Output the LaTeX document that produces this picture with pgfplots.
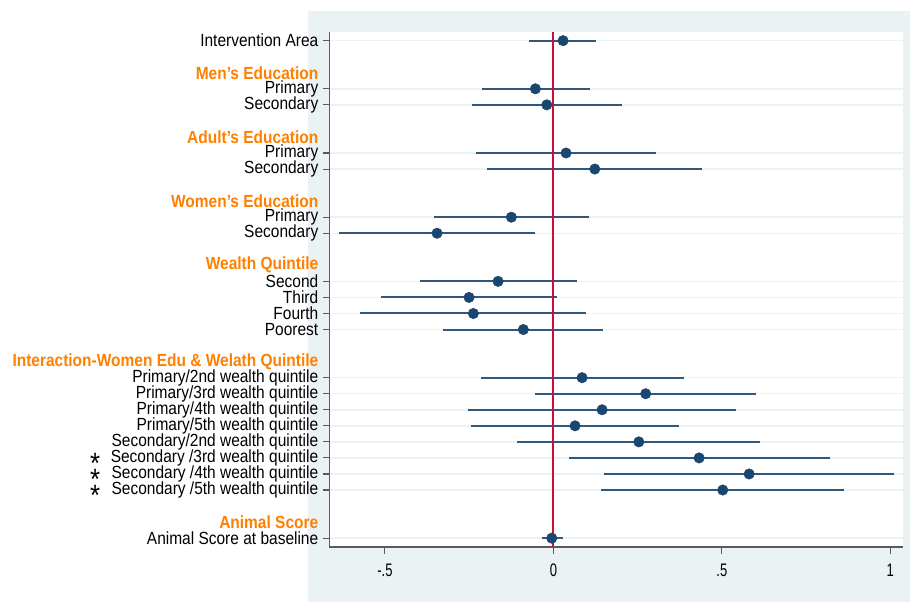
\documentclass[border=0pt]{standalone}
\usepackage{fontspec}
\setmainfont{Liberation Sans}[FakeStretch=0.88]
\newfontfamily\tickfont{Liberation Sans}[FakeStretch=0.72]
\usepackage{pgfplots}
\pgfplotsset{compat=1.18}
\definecolor{bgc}{RGB}{234,242,243}
\definecolor{gridc}{RGB}{234,242,243}
\definecolor{navy}{RGB}{26,71,111}
\definecolor{cic}{RGB}{48,88,124}
\definecolor{redc}{RGB}{200,16,56}
\definecolor{orangec}{RGB}{255,128,0}
\definecolor{axgray}{RGB}{90,90,90}
\begin{document}
\begin{tikzpicture}
\useasboundingbox (-246.9pt,-41.25pt) rectangle (435.6pt,410.25pt);
\fill[bgc] (-15.9pt,-41.25pt) rectangle (435.6pt,402pt);
\begin{axis}[
  at={(0pt,0pt)}, anchor=south west,
  scale only axis, width=430.5pt, height=386.25pt,
  xmin=-0.6654, xmax=1.0383, ymin=-31.55, ymax=0.54,
  axis lines*=left,
  axis line style={draw=axgray, line width=1pt},
  tick align=outside, major tick length=5pt,
  tick style={draw=axgray, line width=0.8pt},
  xtick={-0.5,0,0.5,1}, xticklabels={-.5,0,.5,1},
  ytick={0,-3,-4,-7,-8,-11,-12,-15,-16,-17,-18,-21,-22,-23,-24,-25,-26,-27,-28,-31},
  yticklabels={Intervention Area,Primary,Secondary,Primary,Secondary,Primary,Secondary,Second,Third,Fourth,Poorest,Primary/2nd wealth quintile,Primary/3rd wealth quintile,Primary/4th wealth quintile,Primary/5th wealth quintile,Secondary/2nd wealth quintile,Secondary /3rd wealth quintile,Secondary /4th wealth quintile,Secondary /5th wealth quintile,Animal Score at baseline},
  yticklabel style={font=\fontsize{13.2}{14}\selectfont, inner sep=1pt, xshift=-2pt},
  xticklabel style={font=\tickfont\fontsize{13.6}{15}\selectfont, yshift=-4pt},
  /pgf/number format/assume math mode=true,
  ymajorgrids, grid style={draw=gridc, line width=1.1pt},
  axis background/.style={fill=white},
  clip=false, unbounded coords=jump,
]
% confidence intervals
\addplot[draw=cic, line width=1.5pt] coordinates {
(-0.0713,0) (0.1268,0) (nan,nan)
(-0.2126,-3) (0.1090,-3) (nan,nan)
(-0.2414,-4) (0.2030,-4) (nan,nan)
(-0.2295,-7) (0.3050,-7) (nan,nan)
(-0.1960,-8) (0.4415,-8) (nan,nan)
(-0.3550,-11) (0.1069,-11) (nan,nan)
(-0.6354,-12) (-0.0534,-12) (nan,nan)
(-0.3967,-15) (0.0713,-15) (nan,nan)
(-0.5125,-16) (0.0110,-16) (nan,nan)
(-0.5730,-17) (0.0980,-17) (nan,nan)
(-0.3266,-18) (0.1467,-18) (nan,nan)
(-0.2156,-21) (0.3872,-21) (nan,nan)
(-0.0543,-22) (0.6018,-22) (nan,nan)
(-0.2542,-23) (0.5434,-23) (nan,nan)
(-0.2435,-24) (0.3741,-24) (nan,nan)
(-0.1069,-25) (0.6137,-25) (nan,nan)
(0.0457,-26) (0.8224,-26) (nan,nan)
(0.1514,-27) (1.0116,-27) (nan,nan)
(0.1407,-28) (0.8631,-28) (nan,nan)
(-0.0336,-31) (0.0279,-31)
};
% reference line
\addplot[draw=redc, line width=1.5pt] coordinates {(0,0.54) (0,-31.55)};
% point estimates
\addplot[only marks, mark=*, mark size=3.9pt, mark options={fill=navy, draw=navy}] coordinates {
(0.0288,0) (-0.0534,-3) (-0.0196,-4) (0.0377,-7) (0.1229,-8)
(-0.1247,-11) (-0.3453,-12)
(-0.1642,-15) (-0.2503,-16) (-0.2375,-17) (-0.0891,-18)
(0.0852,-21) (0.2740,-22) (0.1446,-23) (0.0644,-24)
(0.2536,-25) (0.4326,-26) (0.5811,-27) (0.5027,-28)
(-0.0048,-31)
};
% group headers
\tikzset{hdr/.style={anchor=east, xshift=-7pt, text=orangec, font=\bfseries\fontsize{13.2}{14}\selectfont, inner sep=1pt}}
\node[hdr] at (axis cs:-0.6654,-2) {Men's Education};
\node[hdr] at (axis cs:-0.6654,-6) {Adult's Education};
\node[hdr] at (axis cs:-0.6654,-10) {Women's Education};
\node[hdr] at (axis cs:-0.6654,-14) {Wealth Quintile};
\node[hdr] at (axis cs:-0.6654,-20) {Interaction-Women Edu \& Welath Quintile};
\node[hdr] at (axis cs:-0.6654,-30) {Animal Score};
% significance stars
\tikzset{star/.style={anchor=center, xshift=-175.6pt, yshift=-4pt, font=\fontsize{22}{23}\selectfont, inner sep=0pt}}
\node[star] at (axis cs:-0.6654,-26) {*};
\node[star] at (axis cs:-0.6654,-27) {*};
\node[star] at (axis cs:-0.6654,-28) {*};
\end{axis}
\end{tikzpicture}
\end{document}
